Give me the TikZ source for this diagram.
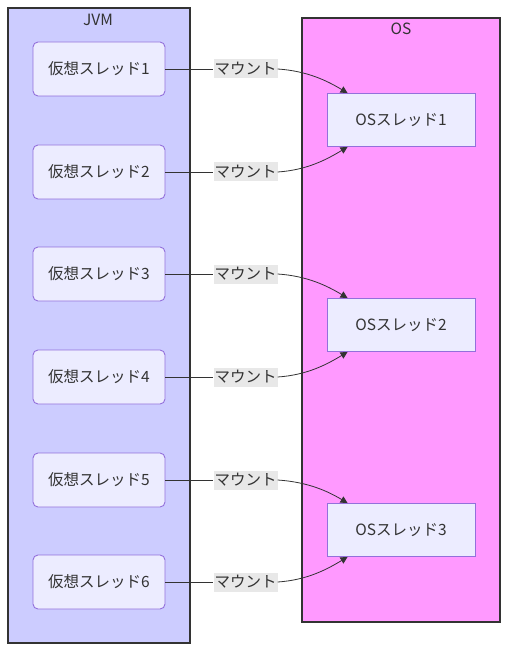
\documentclass[tikz,border=0pt]{standalone}
\usepackage{fontspec}
\setmainfont{Noto Sans CJK JP}
\usetikzlibrary{arrows.meta,calc}
\definecolor{jvmfill}{HTML}{CCCCFF}
\definecolor{osfill}{HTML}{FF99FF}
\definecolor{nodefill}{HTML}{ECECFF}
\definecolor{nodeborder}{HTML}{9370DB}
\definecolor{ink}{HTML}{333333}
\definecolor{lblfill}{HTML}{E8E8E8}
\begin{document}
\begin{tikzpicture}[x=1pt,y=-1pt,
  font=\fontsize{15.5}{18}\selectfont,
  group/.style={draw=ink,line width=1.3pt,inner sep=0pt},
  grouptitle/.style={text=ink,inner sep=0pt},
  vthread/.style={draw=nodeborder,fill=nodefill,rounded corners=5pt,minimum width=132pt,minimum height=54pt,text=ink,line width=0.9pt},
  othread/.style={draw=nodeborder,fill=nodefill,minimum width=148pt,minimum height=53pt,text=ink,line width=0.9pt},
  mlabel/.style={fill=lblfill,text=ink,minimum width=63pt,minimum height=19pt,inner sep=1pt},
  link/.style={draw=ink,line width=0.8pt},
  tip/.style={-{Triangle[length=7pt,width=7pt]}}
]
\useasboundingbox (0,0) rectangle (516,660);
% groups
\node[group,fill=jvmfill,minimum width=182pt,minimum height=635pt] (jvm) at (99,325.5) {};
\node[grouptitle] (jvmt) at (98,20) {JVM};
\node[group,fill=osfill,minimum width=198pt,minimum height=604pt] (os) at (401,320) {};
\node[grouptitle] (ost) at (401,29) {OS};
% virtual threads and labels
\foreach \i/\y in {1/69,2/172,3/274,4/377,5/480,6/582} {
  \node[vthread] (v\i) at (99,\y) {仮想スレッド\i};
  \node[mlabel] (l\i) at (245.5,\y) {マウント};
}
% OS threads
\foreach \i/\y in {1/120,2/325,3/530} {
  \node[othread] (o\i) at (401,\y) {OSスレッド\i};
}
% edges to top
\foreach \i/\j in {1/1,3/2,5/3} {
  \draw[link] (v\i.east) -- (l\i.west);
  \draw[link,tip] (l\i.east) .. controls +(30,2) and +(-20,-12) .. ($(o\j.north west)+(21,0)$);
}
% edges to bottom
\foreach \i/\j in {2/1,4/2,6/3} {
  \draw[link] (v\i.east) -- (l\i.west);
  \draw[link,tip] (l\i.east) .. controls +(30,-2) and +(-20,12) .. ($(o\j.south west)+(21,0)$);
}
\end{tikzpicture}
\end{document}
